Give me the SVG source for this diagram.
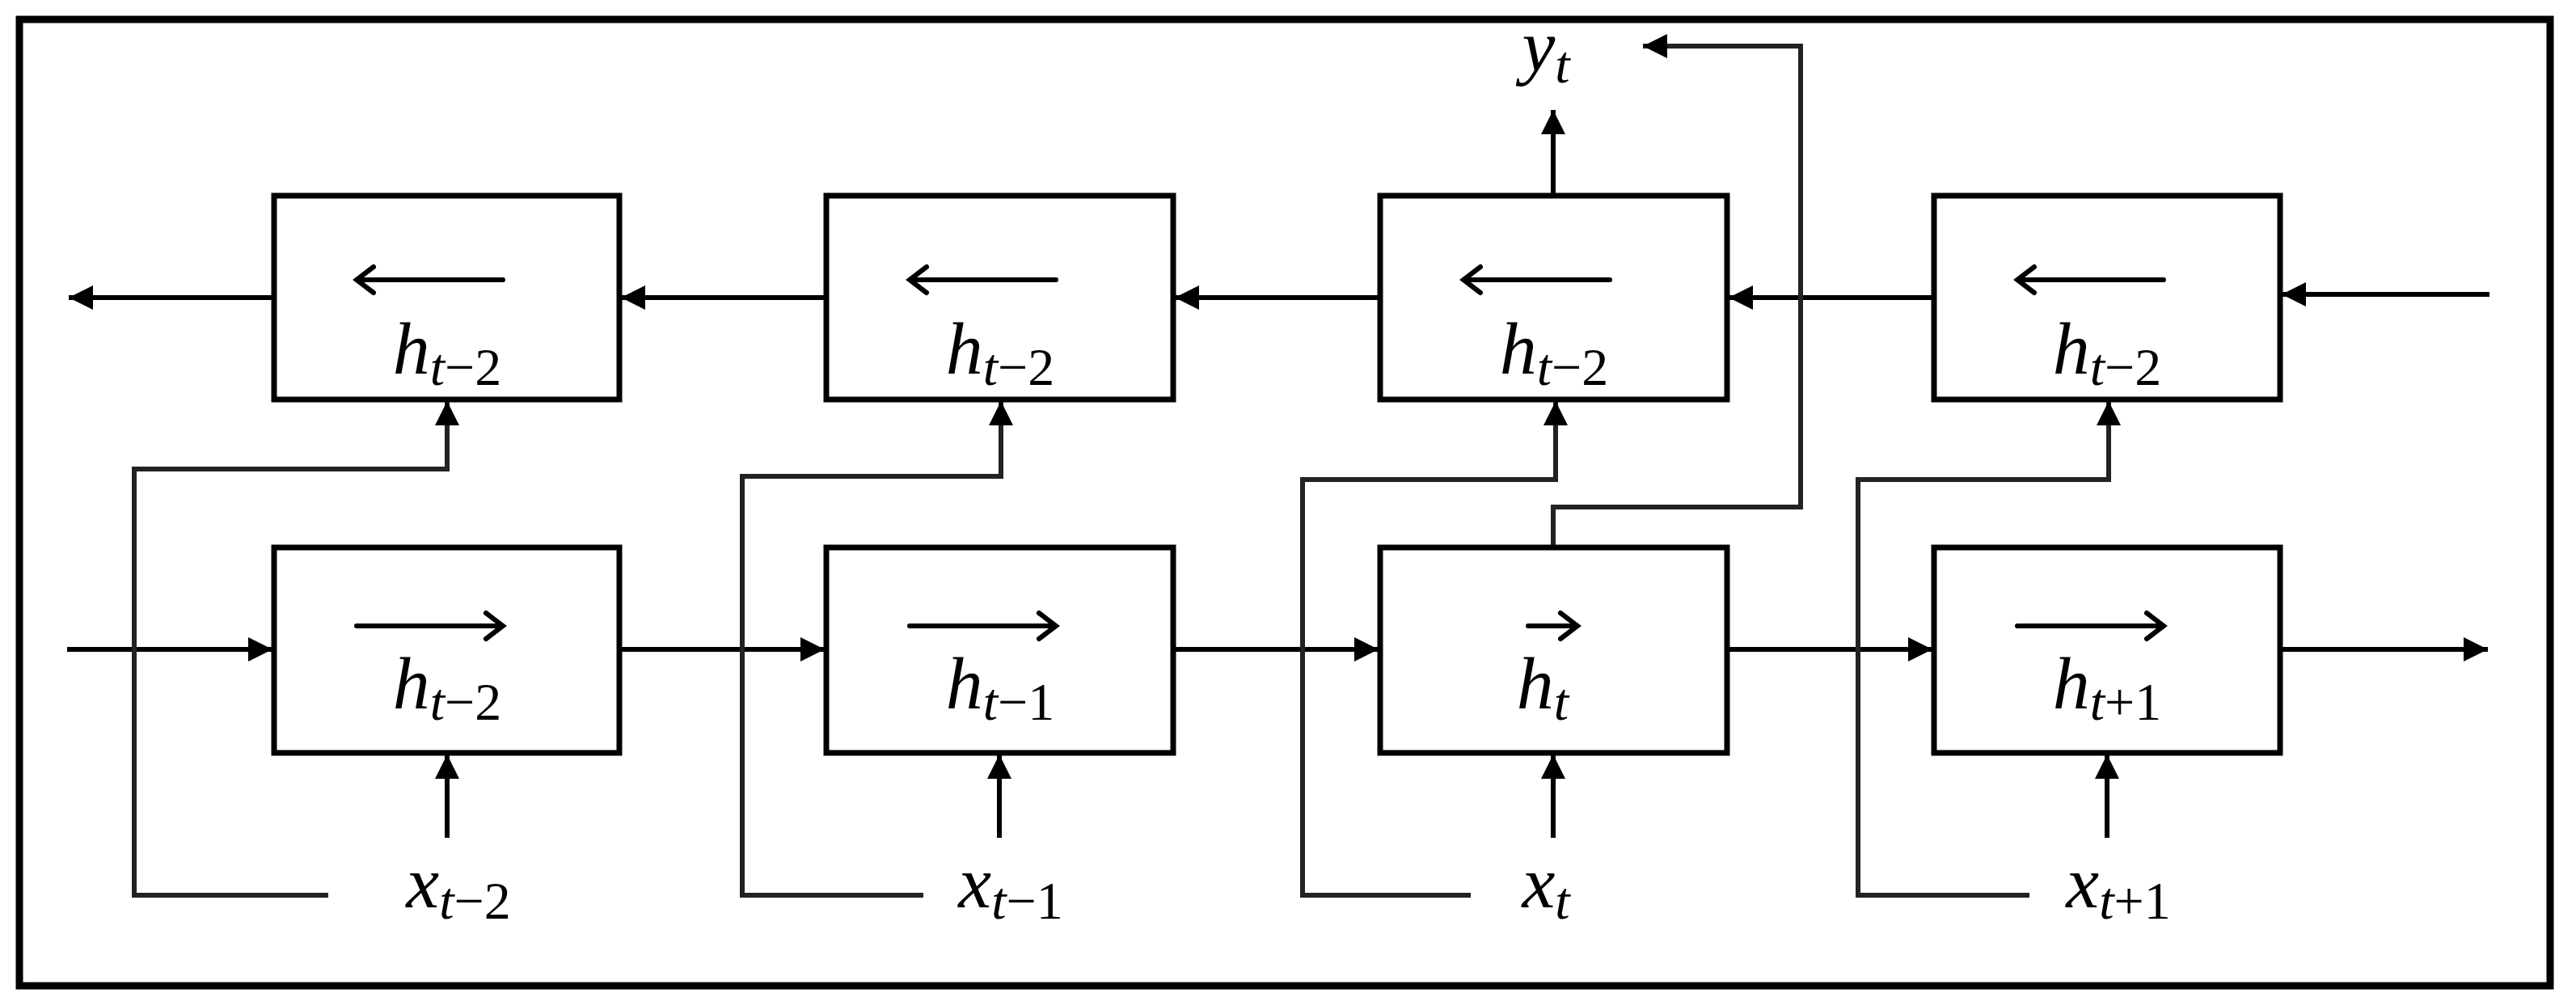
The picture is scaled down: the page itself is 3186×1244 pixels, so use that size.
<svg xmlns="http://www.w3.org/2000/svg" width="3186" height="1244" viewBox="0 0 3186 1244">
<style>
.box{fill:#fff;stroke:#000;stroke-width:7}
.ln{fill:none;stroke:#000;stroke-width:6}
.ov{fill:none;stroke:#000;stroke-width:6;stroke-linecap:round}
.gr{fill:none;stroke:#222;stroke-width:6}
text{font-family:"Liberation Serif","DejaVu Serif",serif;font-size:92px;fill:#000}
.it{font-style:italic}
.sub{font-size:66px}
</style>
<defs>
<marker id="ah" viewBox="0 0 10 10" refX="10" refY="5" markerWidth="5.5" markerHeight="5" markerUnits="strokeWidth" orient="auto"><path d="M0,0L10,5L0,10z" fill="#000"/></marker>
</defs>
<rect x="24" y="24" width="3130" height="1195" fill="#fff" stroke="#000" stroke-width="9"/>
<g id="connectors">
<path class="ln" d="M339,368H85" marker-end="url(#ah)"/>
<path class="ln" d="M1022,368H768" marker-end="url(#ah)"/>
<path class="ln" d="M1707,368H1453" marker-end="url(#ah)"/>
<path class="ln" d="M2392,368H2138" marker-end="url(#ah)"/>
<path class="ln" d="M3079,364H2822" marker-end="url(#ah)"/>
<path class="ln" d="M83,803H337" marker-end="url(#ah)"/>
<path class="ln" d="M768,803H1020" marker-end="url(#ah)"/>
<path class="ln" d="M1453,803H1705" marker-end="url(#ah)"/>
<path class="ln" d="M2138,803H2390" marker-end="url(#ah)"/>
<path class="ln" d="M2822,803H3077" marker-end="url(#ah)"/>
<path class="ln" d="M553,1036V933" marker-end="url(#ah)"/>
<path class="ln" d="M1236,1036V933" marker-end="url(#ah)"/>
<path class="ln" d="M1921,1036V933" marker-end="url(#ah)"/>
<path class="ln" d="M2606,1036V933" marker-end="url(#ah)"/>
<path class="gr" d="M406,1107H166V580H553V496" marker-end="url(#ah)"/>
<path class="gr" d="M1142,1107H918V589H1238V496" marker-end="url(#ah)"/>
<path class="gr" d="M1819,1107H1611V593H1924V496" marker-end="url(#ah)"/>
<path class="gr" d="M2510,1107H2298V593H2608V496" marker-end="url(#ah)"/>
<path class="ln" d="M1921,242V136" marker-end="url(#ah)"/>
<path class="gr" d="M1921,677V627H2227V57H2032" marker-end="url(#ah)"/>
</g>
<g id="b1"><rect class="box" x="339" y="242" width="427" height="252"/><path class="ov" d="M441,346H622M462,330L441,346L462,362"/><text x="553" y="462" text-anchor="middle"><tspan class="it">h</tspan><tspan class="sub" dy="14"><tspan class="it">t</tspan>−2</tspan></text></g>
<g id="b2"><rect class="box" x="1022" y="242" width="429" height="252"/><path class="ov" d="M1125,346H1306M1146,330L1125,346L1146,362"/><text x="1237" y="462" text-anchor="middle"><tspan class="it">h</tspan><tspan class="sub" dy="14"><tspan class="it">t</tspan>−2</tspan></text></g>
<g id="b3"><rect class="box" x="1707" y="242" width="429" height="252"/><path class="ov" d="M1810,346H1991M1831,330L1810,346L1831,362"/><text x="1922" y="462" text-anchor="middle"><tspan class="it">h</tspan><tspan class="sub" dy="14"><tspan class="it">t</tspan>−2</tspan></text></g>
<g id="b4"><rect class="box" x="2392" y="242" width="428" height="252"/><path class="ov" d="M2495,346H2676M2516,330L2495,346L2516,362"/><text x="2606" y="462" text-anchor="middle"><tspan class="it">h</tspan><tspan class="sub" dy="14"><tspan class="it">t</tspan>−2</tspan></text></g>
<g id="f1"><rect class="box" x="339" y="677" width="427" height="254"/><path class="ov" d="M441,774H622M601,758L622,774L601,790"/><text x="553" y="876" text-anchor="middle"><tspan class="it">h</tspan><tspan class="sub" dy="14"><tspan class="it">t</tspan>−2</tspan></text></g>
<g id="f2"><rect class="box" x="1022" y="677" width="429" height="254"/><path class="ov" d="M1125,774H1306M1285,758L1306,774L1285,790"/><text x="1237" y="876" text-anchor="middle"><tspan class="it">h</tspan><tspan class="sub" dy="14"><tspan class="it">t</tspan>−1</tspan></text></g>
<g id="f3"><rect class="box" x="1707" y="677" width="429" height="254"/><path class="ov" d="M1890,774H1951M1930,758L1951,774L1930,790"/><text x="1908" y="876" text-anchor="middle"><tspan class="it">h</tspan><tspan class="sub it" dy="14">t</tspan></text></g>
<g id="f4"><rect class="box" x="2392" y="677" width="428" height="254"/><path class="ov" d="M2495,774H2676M2655,758L2676,774L2655,790"/><text x="2606" y="876" text-anchor="middle"><tspan class="it">h</tspan><tspan class="sub" dy="14"><tspan class="it">t</tspan>+1</tspan></text></g>
<g id="x1"><text x="567" y="1122" text-anchor="middle"><tspan class="it">x</tspan><tspan class="sub" dy="14"><tspan class="it">t</tspan>−2</tspan></text></g>
<g id="x2"><text x="1250" y="1122" text-anchor="middle"><tspan class="it">x</tspan><tspan class="sub" dy="14"><tspan class="it">t</tspan>−1</tspan></text></g>
<g id="x3"><text x="1912" y="1122" text-anchor="middle"><tspan class="it">x</tspan><tspan class="sub it" dy="14">t</tspan></text></g>
<g id="x4"><text x="2620" y="1122" text-anchor="middle"><tspan class="it">x</tspan><tspan class="sub" dy="14"><tspan class="it">t</tspan>+1</tspan></text></g>
<g id="y"><text x="1912" y="88" text-anchor="middle"><tspan class="it">y</tspan><tspan class="sub it" dy="14">t</tspan></text></g>
</svg>
